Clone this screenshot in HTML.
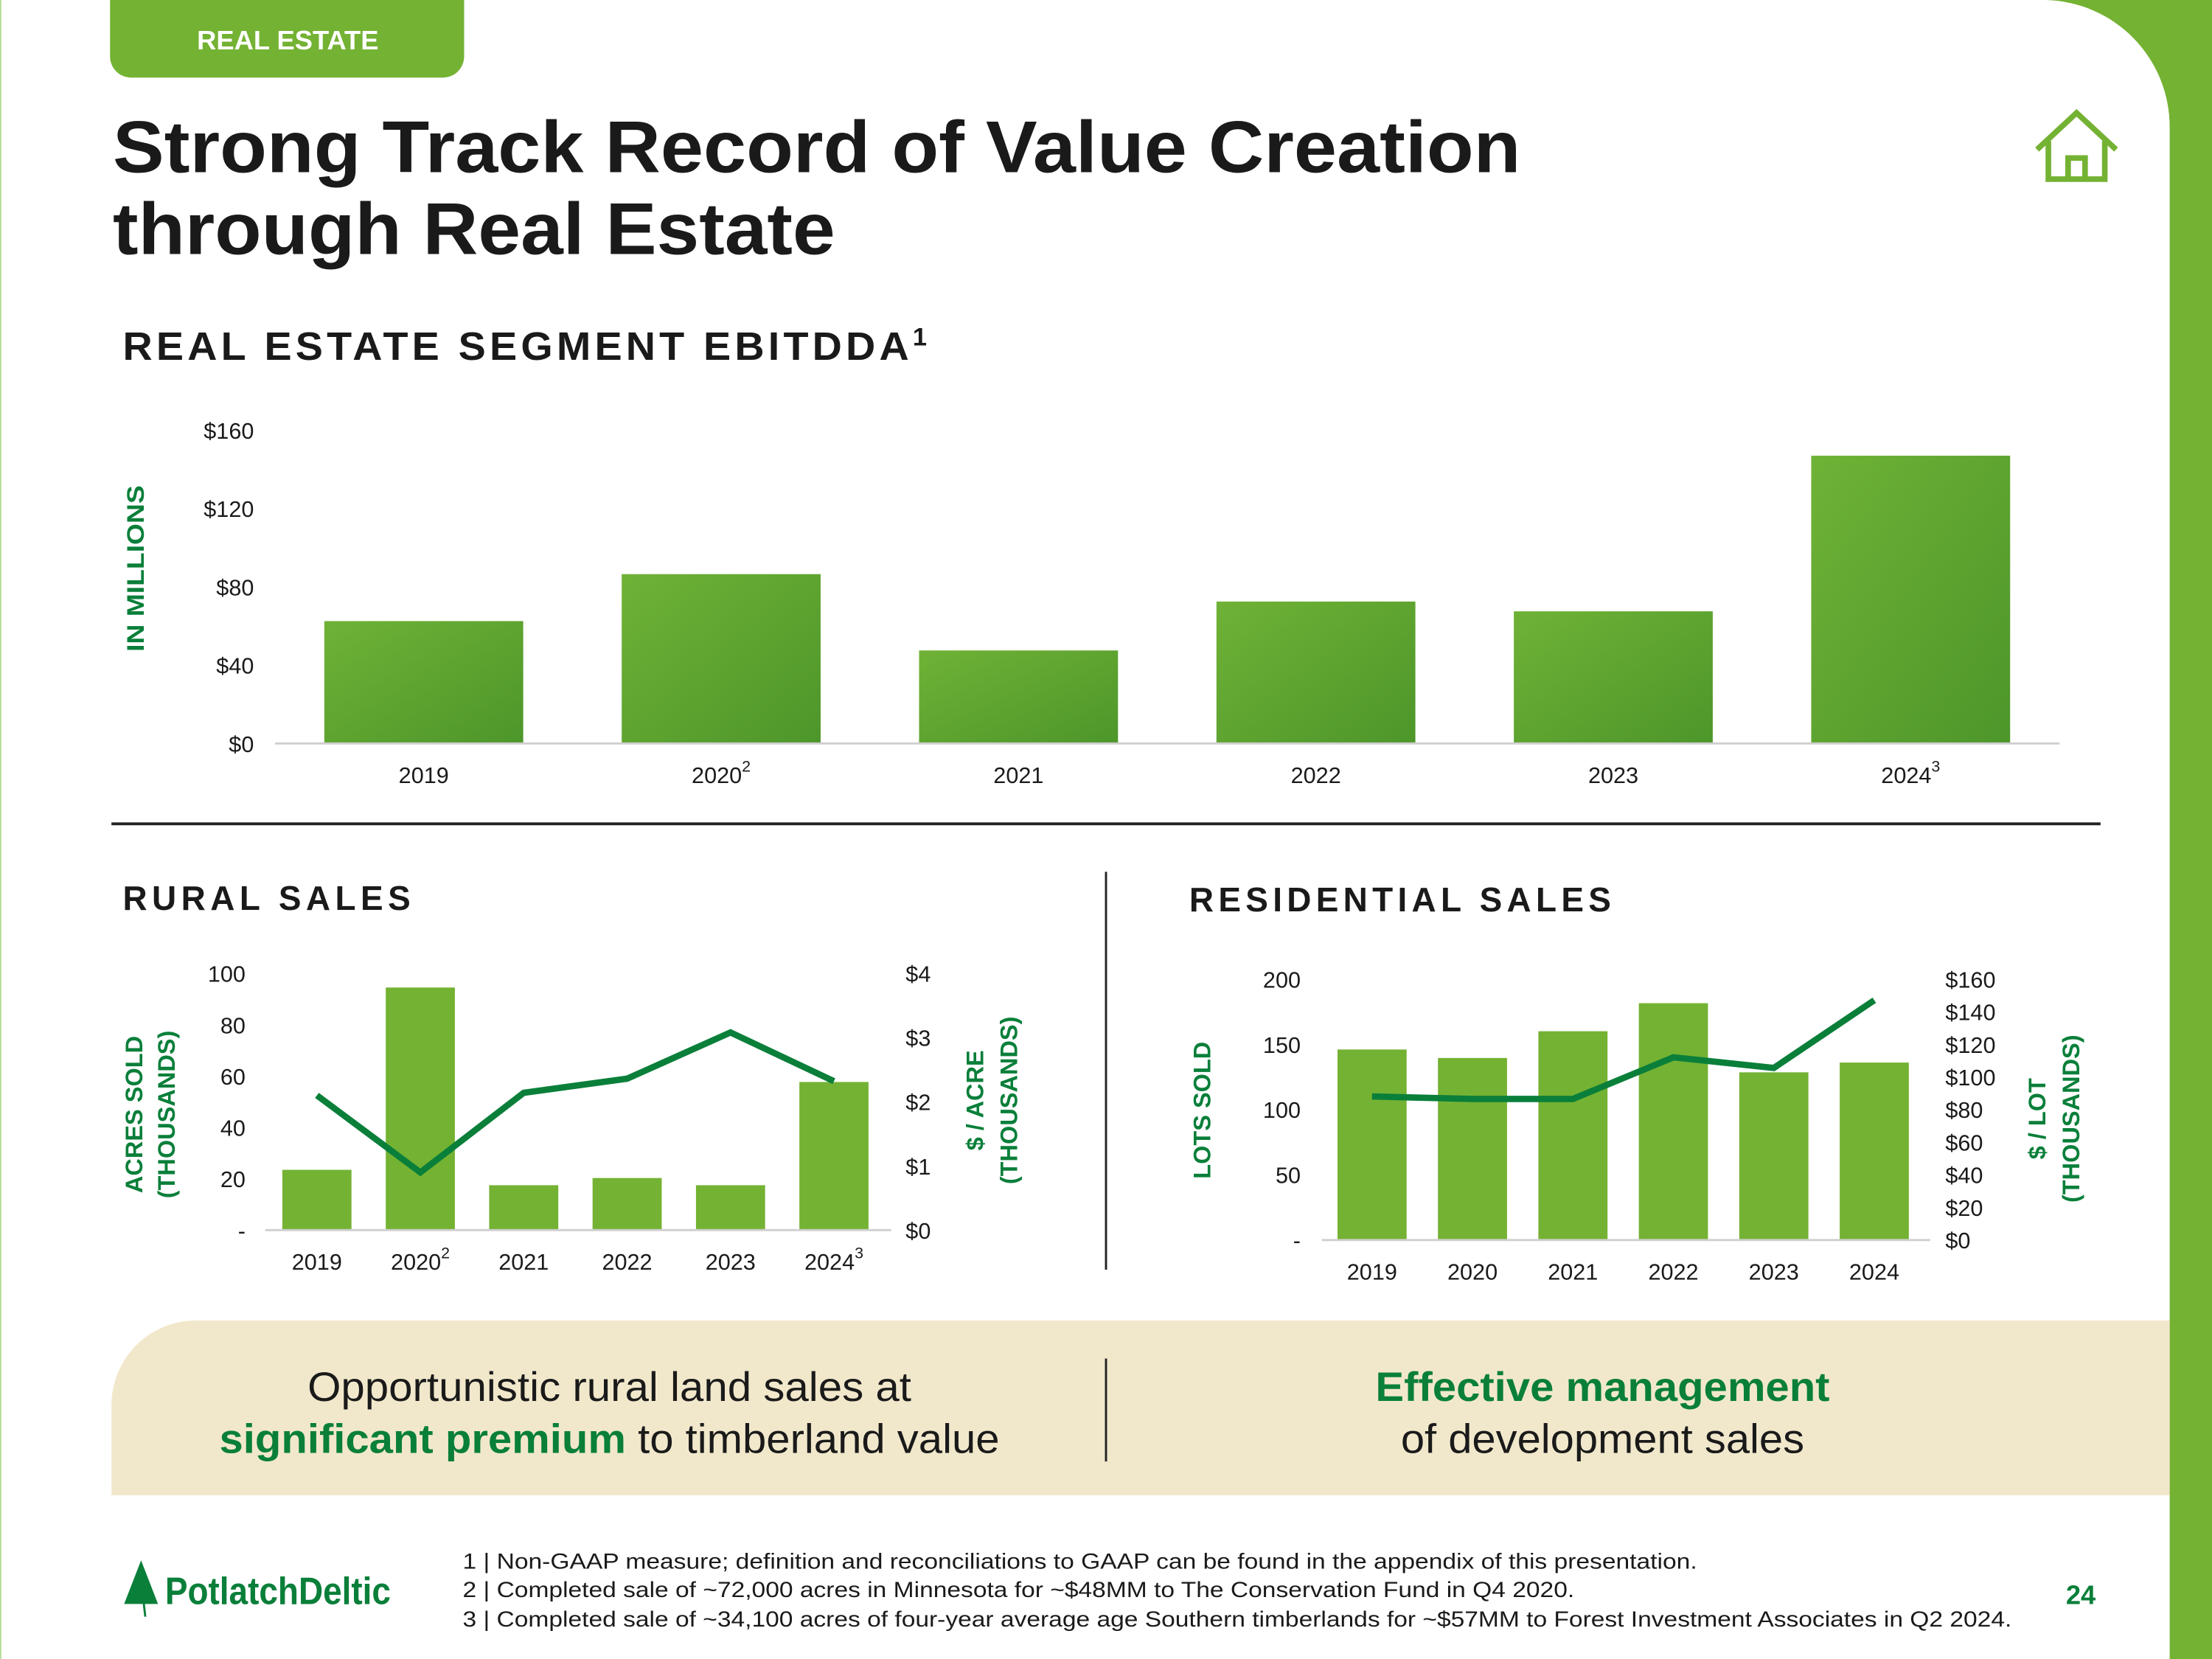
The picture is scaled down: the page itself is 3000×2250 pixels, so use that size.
<!DOCTYPE html>
<html><head><meta charset="utf-8"><style>
html,body{margin:0;padding:0;background:#fff}
svg{display:block}
text{font-family:"Liberation Sans",Arial,sans-serif}
</style></head><body>
<svg id="s" xmlns="http://www.w3.org/2000/svg" width="3000" height="2250" viewBox="0 0 1568 1176">
<defs>
<linearGradient id="g1" x1="0" y1="0" x2="1" y2="1"><stop offset="0" stop-color="#6fb236"/><stop offset="1" stop-color="#4d962a"/></linearGradient>
</defs>
<rect x="0" y="0" width="1568" height="1176" fill="#fff"/>
<path d="M1450 0 H1568 V1176 H1538 V90 A90 90 0 0 0 1450 0 Z" fill="#74b233"/>
<rect x="0" y="0" width="1" height="1176" fill="#b8dc98"/>
<path d="M78 0 H329 V40 A15 15 0 0 1 314 55 H93 A15 15 0 0 1 78 40 Z" fill="#74b233"/>
<text x="204" y="35" text-anchor="middle" font-size="19" font-weight="bold" fill="#fff">REAL ESTATE</text>
<text x="80" y="122" font-size="52" font-weight="bold" fill="#1a1a1a" textLength="998" lengthAdjust="spacingAndGlyphs">Strong Track Record of Value Creation</text>
<text x="80" y="180" font-size="52" font-weight="bold" fill="#1a1a1a" textLength="512" lengthAdjust="spacingAndGlyphs">through Real Estate</text>
<g fill="none" stroke="#74b233" stroke-width="4">
<path d="M1444 106 L1472 80 L1500 106"/><path d="M1452 100 V127 H1492 V100"/><path d="M1466 127 V112 H1478 V127"/>
</g>
<text x="87" y="255" font-size="28" font-weight="bold" fill="#1a1a1a" letter-spacing="2.6"><tspan textLength="560" lengthAdjust="spacingAndGlyphs">REAL ESTATE SEGMENT EBITDDA</tspan><tspan font-size="18" dy="-10">1</tspan></text>
<text transform="translate(102,403) rotate(-90)" text-anchor="middle" font-size="17" font-weight="bold" fill="#0a7f3a" textLength="118" lengthAdjust="spacingAndGlyphs">IN MILLIONS</text>
<g id="top"></g>
<line x1="79" y1="584" x2="1489" y2="584" stroke="#222" stroke-width="2"/>
<line x1="784" y1="618" x2="784" y2="900" stroke="#222" stroke-width="1.5"/>
<text x="87" y="645" font-size="24" font-weight="bold" fill="#1a1a1a" textLength="204" lengthAdjust="spacing">RURAL SALES</text>
<text x="843" y="646" font-size="24" font-weight="bold" fill="#1a1a1a" textLength="299" lengthAdjust="spacing">RESIDENTIAL SALES</text>
<text transform="translate(101,790) rotate(-90)" text-anchor="middle" font-size="17" font-weight="bold" fill="#0a7f3a">ACRES SOLD</text>
<text transform="translate(124,790) rotate(-90)" text-anchor="middle" font-size="17" font-weight="bold" fill="#0a7f3a">(THOUSANDS)</text>
<text transform="translate(697,780) rotate(-90)" text-anchor="middle" font-size="17" font-weight="bold" fill="#0a7f3a">$ / ACRE</text>
<text transform="translate(721,780) rotate(-90)" text-anchor="middle" font-size="17" font-weight="bold" fill="#0a7f3a">(THOUSANDS)</text>
<text transform="translate(858,787) rotate(-90)" text-anchor="middle" font-size="17" font-weight="bold" fill="#0a7f3a">LOTS SOLD</text>
<text transform="translate(1450,793) rotate(-90)" text-anchor="middle" font-size="17" font-weight="bold" fill="#0a7f3a">$ / LOT</text>
<text transform="translate(1474,793) rotate(-90)" text-anchor="middle" font-size="17" font-weight="bold" fill="#0a7f3a">(THOUSANDS)</text>
<g id="rural"></g>
<g id="resi"></g>
<path d="M139 936 H1538 V1060 H79 V996 A60 60 0 0 1 139 936 Z" fill="#f1e8cc"/>
<line x1="784" y1="963" x2="784" y2="1036" stroke="#222" stroke-width="1.5"/>
<text x="432" y="993" text-anchor="middle" font-size="29" fill="#1a1a1a" textLength="428" lengthAdjust="spacingAndGlyphs">Opportunistic rural land sales at</text>
<text x="432" y="1030" text-anchor="middle" font-size="29" fill="#1a1a1a" textLength="553" lengthAdjust="spacingAndGlyphs"><tspan font-weight="bold" fill="#0a7f3a">significant premium</tspan> to timberland value</text>
<text x="1136" y="993" text-anchor="middle" font-size="29" font-weight="bold" fill="#0a7f3a" textLength="322" lengthAdjust="spacingAndGlyphs">Effective management</text>
<text x="1136" y="1030" text-anchor="middle" font-size="29" fill="#1a1a1a" textLength="286" lengthAdjust="spacingAndGlyphs">of development sales</text>
<g>
<path d="M100 1106 L88 1137 H112 Z" fill="#0a7f3a"/><line x1="100" y1="1120" x2="103" y2="1146" stroke="#0a7f3a" stroke-width="1.5"/>
<text x="117" y="1137" font-size="27" font-weight="bold" fill="#0a7f3a" textLength="160" lengthAdjust="spacingAndGlyphs">PotlatchDeltic</text>
</g>
<text x="328" y="1112" font-size="15.5" fill="#1a1a1a" textLength="875" lengthAdjust="spacingAndGlyphs">1 | Non-GAAP measure; definition and reconciliations to GAAP can be found in the appendix of this presentation.</text>
<text x="328" y="1132" font-size="15.5" fill="#1a1a1a" textLength="788" lengthAdjust="spacingAndGlyphs">2 | Completed sale of ~72,000 acres in Minnesota for ~$48MM to The Conservation Fund in Q4 2020.</text>
<text x="328" y="1153" font-size="15.5" fill="#1a1a1a" textLength="1098" lengthAdjust="spacingAndGlyphs">3 | Completed sale of ~34,100 acres of four-year average age Southern timberlands for ~$57MM to Forest Investment Associates in Q2 2024.</text>
<text x="1475" y="1137" text-anchor="middle" font-size="19" font-weight="bold" fill="#0a7f3a">24</text>
</svg>
<script>
const topYears = ["2019","2020","2021","2022","2023","2024"];
const topSup = ["","2","","","","3"];
const ebitdda = [62.5, 86.5, 47.5, 72.5, 67.5, 147];
const topTicks = [0,40,80,120,160];
const topTickLabels = ["$0","$40","$80","$120","$160"];

const ruralYears = ["2019","2020","2021","2022","2023","2024"];
const ruralSup = ["","2","","","","3"];
const acresSold = [23.5, 94.5, 17.5, 20.3, 17.5, 57.7];
const perAcre = [2.1, 0.9, 2.14, 2.36, 3.08, 2.32];
const ruralLeftTicks = [0,20,40,60,80,100];
const ruralLeftLabels = ["-","20","40","60","80","100"];
const ruralRightTicks = [0,1,2,3,4];
const ruralRightLabels = ["$0","$1","$2","$3","$4"];

const resiYears = ["2019","2020","2021","2022","2023","2024"];
const lotsSold = [146, 139.5, 160, 181.5, 128.5, 136];
const perLot = [88, 86.5, 86.5, 112, 105.5, 147];
const resiLeftTicks = [0,50,100,150,200];
const resiLeftLabels = ["-","50","100","150","200"];
const resiRightTicks = [0,20,40,60,80,100,120,140,160];
const resiRightLabels = ["$0","$20","$40","$60","$80","$100","$120","$140","$160"];

const NS="http://www.w3.org/2000/svg";
function mk(p,tag,attrs,txt){const e=document.createElementNS(NS,tag);for(const k in attrs)e.setAttribute(k,attrs[k]);if(txt!==undefined)e.textContent=txt;p.appendChild(e);return e;}
function label(p,x,y,t,sup,size){const e=mk(p,'text',{x:x,y:y,'text-anchor':'middle','font-size':size,fill:'#1a1a1a'});e.appendChild(document.createTextNode(t));if(sup){const s=mk(e,'tspan',{'font-size':size*0.7,dy:-8});s.textContent=sup;}return e;}

(function(){
const g=document.getElementById('top');
const y0=527,y1=305,max=160;
const y=v=>y0-(v/max)*(y0-y1);
const x0=195,step=210.8,bw=141;
const cx=i=>x0+step*(i+0.5);
topTicks.forEach((t,i)=>{const e=mk(g,'text',{x:180,y:y(t)+6,'text-anchor':'end','font-size':16,fill:'#1a1a1a'},topTickLabels[i]);

});
ebitdda.forEach((v,i)=>{const r=mk(g,'rect',{x:cx(i)-bw/2,y:y(v),width:bw,height:y0-y(v),fill:'url(#g1)'});


const l=label(g,cx(i),555,topYears[i],topSup[i],16);

});
const a=mk(g,'line',{x1:195,y1:y0,x2:1460,y2:y0,stroke:'#cfcfcf','stroke-width':1.5});


})();

function combo(gid,years,sups,bars,line,lt,ll,rt,rl,cfg){
const g=document.getElementById(gid);
const yl=v=>cfg.y0-(v/cfg.lmax)*(cfg.y0-cfg.y1);
const yr=v=>cfg.y0-(v/cfg.rmax)*(cfg.y0-cfg.y1);
const cx=i=>cfg.x0+cfg.step*(i+0.5);
lt.forEach((t,i)=>{const e=mk(g,'text',{x:cfg.lx,y:yl(t)+6,'text-anchor':'end','font-size':16,fill:'#1a1a1a'},ll[i]);

});
rt.forEach((t,i)=>{const e=mk(g,'text',{x:cfg.rx,y:yr(t)+6,'text-anchor':'start','font-size':16,fill:'#1a1a1a'},rl[i]);

});
bars.forEach((v,i)=>{const r=mk(g,'rect',{x:cx(i)-24.5,y:yl(v),width:49,height:cfg.y0-yl(v),fill:'#74b233'});


const l=label(g,cx(i),cfg.ly,years[i],sups?sups[i]:'',16);

});
const a=mk(g,'line',{x1:cfg.x0,y1:cfg.y0,x2:cfg.x0+cfg.step*6+4,y2:cfg.y0,stroke:'#cfcfcf','stroke-width':1.5});


const pts=line.map((v,i)=>cx(i)+','+yr(v)).join(' ');
const pl=mk(g,'polyline',{points:pts,fill:'none',stroke:'#0a7f3a','stroke-width':4.5,'stroke-linejoin':'miter'});


}
combo('rural',ruralYears,ruralSup,acresSold,perAcre,ruralLeftTicks,ruralLeftLabels,ruralRightTicks,ruralRightLabels,
{y0:872,y1:690,lmax:100,rmax:4,x0:188,step:73.3,lx:174,rx:642,ly:900});
combo('resi',resiYears,null,lotsSold,perLot,resiLeftTicks,resiLeftLabels,resiRightTicks,resiRightLabels,
{y0:879,y1:694,lmax:200,rmax:160,x0:937,step:71.2,lx:922,rx:1379,ly:907});
</script>
</body></html>
